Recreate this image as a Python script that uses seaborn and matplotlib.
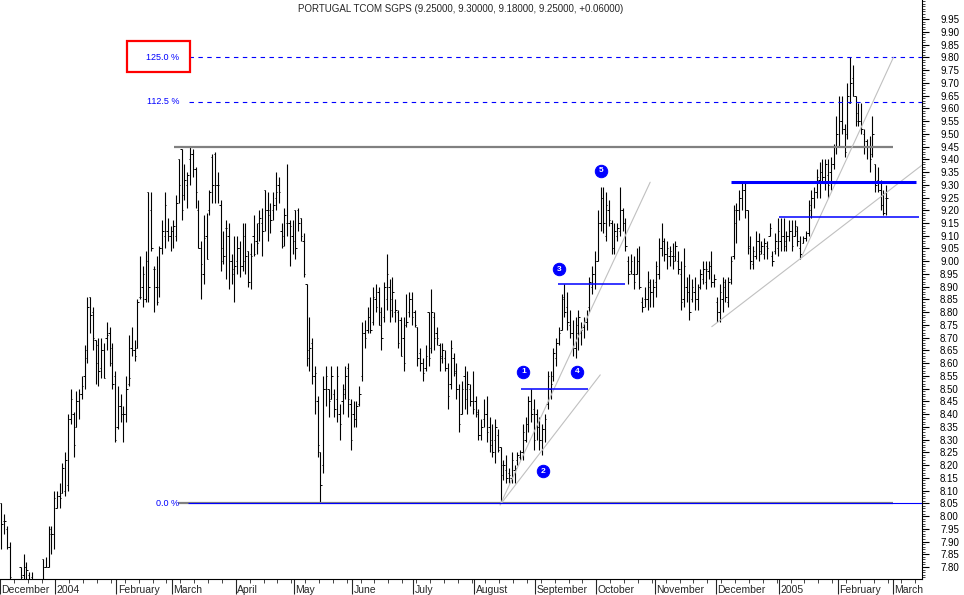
import numpy as np
import pandas as pd
import matplotlib
matplotlib.use("Agg")
import matplotlib.pyplot as plt
from matplotlib.patches import Rectangle
from matplotlib.ticker import FixedLocator, MultipleLocator, FormatStrFormatter
import seaborn as sns

# ──────────────────────────────────────────────
# Daily bars (open, high, low, close), one list per month
# ──────────────────────────────────────────────
dec03 = [
    (8.05, 8.05, 7.87, 7.97), (7.98, 8.01, 7.93, 7.98), (7.95, 7.96, 7.87, 7.88),
    (7.88, 7.90, 7.72, 7.76), (7.72, 7.74, 7.66, 7.70), (7.70, 7.73, 7.64, 7.68),
    (7.68, 7.74, 7.65, 7.72), (7.80, 7.80, 7.70, 7.76), (7.77, 7.85, 7.72, 7.80),
    (7.80, 7.82, 7.73, 7.79), (7.77, 7.78, 7.70, 7.74), (7.76, 7.78, 7.71, 7.73),
    (7.72, 7.74, 7.65, 7.70), (7.70, 7.73, 7.66, 7.69), (7.69, 7.74, 7.67, 7.72),
    (7.83, 7.83, 7.74, 7.80), (7.80, 7.84, 7.80, 7.80), (7.80, 7.96, 7.80, 7.93),
    (7.95, 7.96, 7.85, 7.93), (7.93, 8.10, 7.87, 8.07),
]
jan04 = [
    (8.03, 8.10, 8.03, 8.08), (8.08, 8.13, 8.03, 8.07), (8.09, 8.21, 8.09, 8.19),
    (8.10, 8.25, 8.08, 8.22), (8.12, 8.40, 8.10, 8.38), (8.38, 8.50, 8.36, 8.46),
    (8.40, 8.41, 8.23, 8.28), (8.35, 8.49, 8.35, 8.45), (8.45, 8.50, 8.38, 8.48),
    (8.48, 8.55, 8.46, 8.51), (8.55, 8.67, 8.50, 8.65), (8.62, 8.86, 8.60, 8.82),
    (8.86, 8.86, 8.72, 8.79), (8.80, 8.82, 8.65, 8.70), (8.69, 8.69, 8.52, 8.67),
    (8.60, 8.70, 8.51, 8.57), (8.58, 8.70, 8.54, 8.65), (8.65, 8.68, 8.54, 8.54),
    (8.70, 8.76, 8.65, 8.71), (8.72, 8.74, 8.59, 8.60), (8.66, 8.68, 8.50, 8.52),
    (8.55, 8.57, 8.29, 8.30),
]
feb04 = [
    (8.35, 8.51, 8.34, 8.43), (8.43, 8.48, 8.37, 8.40), (8.40, 8.43, 8.29, 8.40),
    (8.40, 8.55, 8.37, 8.50), (8.52, 8.71, 8.51, 8.54), (8.66, 8.74, 8.63, 8.65),
    (8.65, 8.69, 8.61, 8.63), (8.66, 8.85, 8.66, 8.84), (8.86, 9.02, 8.85, 8.86),
    (8.90, 8.98, 8.82, 8.95), (8.85, 9.04, 8.84, 9.00), (9.27, 9.27, 8.84, 8.90),
    (9.20, 9.27, 9.04, 9.05), (8.97, 8.98, 8.80, 8.97), (8.90, 9.02, 8.83, 8.84),
    (8.90, 9.06, 8.86, 9.05), (9.05, 9.16, 9.03, 9.12), (9.10, 9.27, 9.05, 9.22),
    (9.12, 9.17, 9.08, 9.10), (9.10, 9.14, 9.04, 9.12),
]
mar04 = [
    (9.12, 9.16, 9.05, 9.14), (9.10, 9.26, 9.08, 9.23), (9.40, 9.40, 9.23, 9.30),
    (9.44, 9.44, 9.16, 9.20), (9.26, 9.38, 9.24, 9.32), (9.30, 9.35, 9.21, 9.34),
    (9.40, 9.45, 9.30, 9.42), (9.42, 9.44, 9.33, 9.36), (9.36, 9.37, 9.21, 9.27),
    (9.20, 9.24, 9.05, 9.05), (9.05, 9.08, 8.85, 8.99), (8.95, 9.18, 8.91, 9.09),
    (9.10, 9.19, 9.01, 9.01), (9.20, 9.28, 9.18, 9.27), (9.41, 9.42, 9.23, 9.30),
    (9.42, 9.43, 9.23, 9.30), (9.30, 9.35, 9.23, 9.30), (9.22, 9.24, 8.96, 9.00),
    (9.05, 9.12, 8.99, 9.02), (9.13, 9.16, 8.93, 9.13), (9.10, 9.15, 8.89, 9.00),
    (9.00, 9.03, 8.91, 8.97), (8.95, 9.10, 8.84, 8.98),
]
apr04 = [
    (9.00, 9.10, 8.95, 9.05), (9.05, 9.08, 8.94, 8.98), (8.98, 9.15, 8.96, 9.10),
    (9.00, 9.15, 8.95, 9.02), (9.04, 9.04, 8.90, 8.92), (9.03, 9.07, 8.89, 9.02),
    (9.10, 9.18, 9.02, 9.03), (9.08, 9.15, 9.03, 9.07), (9.15, 9.20, 9.08, 9.17),
    (9.15, 9.21, 9.02, 9.12), (9.28, 9.28, 9.12, 9.20), (9.20, 9.27, 9.08, 9.20),
    (9.18, 9.23, 9.11, 9.16), (9.20, 9.27, 9.16, 9.22), (9.25, 9.35, 9.20, 9.27),
    (9.30, 9.33, 9.23, 9.27), (9.12, 9.15, 9.05, 9.06), (9.10, 9.21, 9.06, 9.18),
    (9.15, 9.38, 9.10, 9.15), (9.15, 9.16, 8.98, 9.14), (9.10, 9.16, 9.03, 9.08),
]
may04 = [
    (9.20, 9.20, 9.01, 9.05), (9.20, 9.21, 9.12, 9.15), (9.17, 9.17, 9.08, 9.10),
    (9.08, 9.11, 8.94, 8.95), (8.91, 8.91, 8.59, 8.62), (8.65, 8.78, 8.57, 8.66),
    (8.68, 8.70, 8.52, 8.55), (8.55, 8.59, 8.40, 8.56), (8.45, 8.47, 8.23, 8.28),
    (8.25, 8.25, 8.05, 8.12), (8.20, 8.55, 8.17, 8.50), (8.50, 8.59, 8.43, 8.55),
    (8.50, 8.50, 8.39, 8.45), (8.46, 8.59, 8.46, 8.55), (8.48, 8.50, 8.39, 8.42),
    (8.46, 8.59, 8.37, 8.55), (8.40, 8.44, 8.30, 8.36), (8.45, 8.52, 8.40, 8.48),
    (8.50, 8.59, 8.46, 8.55), (8.58, 8.60, 8.39, 8.46), (8.44, 8.46, 8.26, 8.30),
]
jun04 = [
    (8.40, 8.45, 8.35, 8.38), (8.38, 8.45, 8.35, 8.43), (8.44, 8.51, 8.43, 8.48),
    (8.55, 8.76, 8.53, 8.72), (8.72, 8.77, 8.66, 8.70), (8.73, 8.82, 8.72, 8.78),
    (8.78, 8.86, 8.72, 8.73), (8.76, 8.90, 8.75, 8.86), (8.85, 8.91, 8.80, 8.82),
    (8.88, 8.90, 8.75, 8.75), (8.80, 8.82, 8.65, 8.70), (8.78, 8.92, 8.76, 8.90),
    (8.85, 9.03, 8.81, 8.95), (8.90, 8.93, 8.76, 8.81), (8.85, 8.94, 8.78, 8.88),
    (8.80, 8.85, 8.76, 8.81), (8.80, 8.81, 8.66, 8.68), (8.77, 8.78, 8.63, 8.63),
    (8.70, 8.78, 8.57, 8.60), (8.75, 8.87, 8.74, 8.76), (8.80, 8.88, 8.78, 8.85),
    (8.85, 8.88, 8.75, 8.78),
]
jul04 = [
    (8.80, 8.81, 8.74, 8.75), (8.74, 8.74, 8.59, 8.62), (8.64, 8.66, 8.57, 8.60),
    (8.60, 8.62, 8.53, 8.56), (8.58, 8.67, 8.57, 8.63), (8.80, 8.80, 8.59, 8.62),
    (8.66, 8.89, 8.64, 8.80), (8.78, 8.80, 8.65, 8.70), (8.72, 8.74, 8.67, 8.70),
    (8.67, 8.68, 8.57, 8.62), (8.63, 8.68, 8.60, 8.65), (8.62, 8.65, 8.57, 8.58),
    (8.58, 8.60, 8.42, 8.47), (8.52, 8.69, 8.50, 8.66), (8.62, 8.64, 8.55, 8.57),
    (8.56, 8.60, 8.46, 8.50), (8.50, 8.52, 8.33, 8.36), (8.40, 8.53, 8.40, 8.50),
    (8.55, 8.59, 8.42, 8.46), (8.50, 8.57, 8.40, 8.52), (8.50, 8.52, 8.43, 8.45),
    (8.45, 8.57, 8.40, 8.42),
]
aug04 = [
    (8.45, 8.47, 8.39, 8.41), (8.40, 8.42, 8.30, 8.32), (8.32, 8.38, 8.30, 8.35),
    (8.38, 8.46, 8.35, 8.40), (8.40, 8.47, 8.29, 8.33), (8.35, 8.39, 8.25, 8.28),
    (8.30, 8.36, 8.23, 8.25), (8.30, 8.38, 8.21, 8.35), (8.32, 8.34, 8.25, 8.26),
    (8.27, 8.27, 8.05, 8.20), (8.16, 8.22, 8.14, 8.20), (8.18, 8.24, 8.13, 8.15),
    (8.17, 8.19, 8.13, 8.16), (8.15, 8.25, 8.13, 8.22), (8.18, 8.20, 8.13, 8.19),
    (8.22, 8.25, 8.20, 8.24), (8.23, 8.26, 8.22, 8.25), (8.25, 8.36, 8.22, 8.33),
    (8.30, 8.39, 8.29, 8.36), (8.36, 8.47, 8.33, 8.45), (8.45, 8.50, 8.37, 8.40),
    (8.42, 8.46, 8.26, 8.30),
]
sep04 = [
    (8.40, 8.42, 8.30, 8.35), (8.35, 8.39, 8.26, 8.30), (8.30, 8.36, 8.24, 8.34),
    (8.34, 8.40, 8.29, 8.38), (8.44, 8.57, 8.42, 8.55), (8.50, 8.57, 8.46, 8.52),
    (8.55, 8.66, 8.53, 8.64), (8.62, 8.70, 8.59, 8.68), (8.68, 8.74, 8.67, 8.72),
    (8.73, 8.87, 8.73, 8.85), (8.86, 8.91, 8.78, 8.80), (8.82, 8.88, 8.73, 8.76),
    (8.75, 8.81, 8.70, 8.72), (8.72, 8.77, 8.63, 8.66), (8.66, 8.78, 8.62, 8.75),
    (8.72, 8.81, 8.65, 8.78), (8.72, 8.76, 8.67, 8.73), (8.74, 8.78, 8.70, 8.76),
    (8.76, 8.81, 8.73, 8.79), (8.82, 8.94, 8.80, 8.92), (8.90, 8.98, 8.87, 8.95),
    (8.95, 9.04, 8.89, 9.00),
]
oct04 = [
    (9.00, 9.20, 9.00, 9.15), (9.15, 9.29, 9.12, 9.25), (9.25, 9.29, 9.11, 9.15),
    (9.10, 9.27, 9.08, 9.22), (9.20, 9.24, 9.14, 9.16), (9.15, 9.16, 9.03, 9.05),
    (9.05, 9.15, 9.03, 9.12), (9.10, 9.15, 9.08, 9.13), (9.12, 9.29, 9.10, 9.20),
    (9.20, 9.21, 9.12, 9.15), (9.15, 9.17, 9.04, 9.06), (9.00, 9.02, 8.91, 8.95),
    (8.96, 9.03, 8.95, 9.00), (8.95, 9.02, 8.89, 8.92), (8.95, 9.05, 8.95, 9.00),
    (9.00, 9.06, 8.89, 8.90), (8.84, 8.86, 8.80, 8.82), (8.85, 8.90, 8.82, 8.85),
    (8.85, 8.96, 8.81, 8.92), (8.90, 8.93, 8.82, 8.88), (8.88, 8.93, 8.82, 8.90),
]
nov04 = [
    (8.92, 9.00, 8.86, 8.98), (8.95, 9.09, 8.93, 9.05), (9.05, 9.15, 9.02, 9.08),
    (9.08, 9.09, 9.00, 9.03), (9.03, 9.08, 8.97, 9.05), (9.02, 9.06, 8.98, 9.04),
    (9.02, 9.07, 8.97, 9.00), (9.02, 9.08, 9.00, 9.06), (9.00, 9.04, 8.95, 8.97),
    (8.95, 9.00, 8.81, 8.84), (8.85, 9.05, 8.82, 8.98), (8.90, 8.94, 8.84, 8.88),
    (8.88, 8.95, 8.77, 8.80), (8.85, 8.93, 8.84, 8.90), (8.88, 8.94, 8.81, 8.85),
    (8.85, 8.91, 8.81, 8.90), (8.90, 8.97, 8.89, 8.95), (8.93, 9.00, 8.91, 8.97),
    (8.92, 9.00, 8.89, 8.97), (8.96, 9.00, 8.93, 8.98), (8.98, 9.04, 8.90, 8.92),
    (8.92, 8.95, 8.90, 8.93),
]
dec04 = [
    (8.84, 8.86, 8.76, 8.80), (8.80, 8.91, 8.76, 8.88), (8.85, 8.94, 8.80, 8.92),
    (8.90, 8.93, 8.84, 8.86), (8.84, 8.94, 8.82, 8.92), (8.93, 9.02, 8.91, 9.00),
    (9.02, 9.22, 9.01, 9.20), (9.15, 9.23, 9.07, 9.20), (9.20, 9.28, 9.16, 9.25),
    (9.25, 9.31, 9.20, 9.28), (9.28, 9.31, 9.17, 9.20), (9.20, 9.20, 9.03, 9.06),
    (9.05, 9.10, 8.97, 9.00), (8.99, 9.06, 8.97, 9.04), (9.02, 9.12, 9.01, 9.08),
    (9.08, 9.11, 9.00, 9.03), (9.04, 9.08, 9.03, 9.06), (9.03, 9.09, 9.01, 9.07),
    (9.06, 9.08, 9.01, 9.05), (9.10, 9.15, 9.10, 9.13), (9.02, 9.04, 8.98, 9.00),
    (9.04, 9.11, 9.03, 9.08), (9.05, 9.17, 9.02, 9.12),
]
jan05 = [
    (9.08, 9.17, 9.04, 9.10), (9.10, 9.17, 9.04, 9.06), (9.08, 9.12, 9.04, 9.10),
    (9.10, 9.16, 9.08, 9.12), (9.12, 9.16, 9.04, 9.06), (9.10, 9.16, 9.10, 9.14),
    (9.12, 9.14, 9.06, 9.08), (9.05, 9.10, 9.01, 9.03), (9.07, 9.10, 9.07, 9.09),
    (9.09, 9.12, 9.08, 9.11), (9.11, 9.24, 9.10, 9.22), (9.20, 9.28, 9.17, 9.25),
    (9.25, 9.29, 9.21, 9.27), (9.27, 9.36, 9.25, 9.33), (9.32, 9.39, 9.25, 9.35),
    (9.35, 9.40, 9.31, 9.33), (9.33, 9.40, 9.28, 9.38), (9.34, 9.40, 9.25, 9.30),
    (9.35, 9.41, 9.28, 9.38), (9.38, 9.46, 9.36, 9.45), (9.45, 9.57, 9.42, 9.50),
]
feb05 = [
    (9.45, 9.65, 9.45, 9.55), (9.55, 9.65, 9.50, 9.52), (9.52, 9.54, 9.41, 9.43),
    (9.50, 9.70, 9.48, 9.65), (9.62, 9.80, 9.62, 9.70), (9.72, 9.77, 9.65, 9.65),
    (9.65, 9.65, 9.53, 9.55), (9.58, 9.62, 9.53, 9.55), (9.55, 9.62, 9.50, 9.52),
    (9.50, 9.52, 9.42, 9.45), (9.47, 9.48, 9.40, 9.45), (9.45, 9.49, 9.35, 9.40),
    (9.42, 9.57, 9.41, 9.50), (9.38, 9.38, 9.27, 9.30), (9.32, 9.37, 9.27, 9.28),
    (9.28, 9.32, 9.20, 9.22), (9.22, 9.28, 9.18, 9.19), (9.25, 9.30, 9.18, 9.25),
]

month_labels = ["December", "2004", "February", "March", "April", "May", "June",
                "July", "August", "September", "October", "November", "December",
                "2005", "February"]
month_bars = [dec03, jan04, feb04, mar04, apr04, may04, jun04, jul04, aug04,
              sep04, oct04, nov04, dec04, jan05, feb05]
sessions_left_in_feb05 = 2      # March 2005 starts 2 sessions after the last bar

# Fibonacci projection: 0 % at the May/Aug lows, 100 % at the March high
fib_base, fib_top = 8.05, 9.45
fib_pcts = [1.125, 1.25]
fib_texts = ["112.5 %", "125.0 %"]

# horizontal blue levels (price, first bar, last bar, width)
level_prices = [9.31, 9.175, 8.91, 8.50]
level_from = [263.1, 280.4, 200.7, 187.4]
level_to = [329.7, 330.8, 224.9, 211.5]
level_widths = [2.2, 1.1, 1.1, 1.1]

# grey trend lines (bar, price) -> (bar, price)
trend_x0 = [179.8, 179.8, 256.1, 288.6]
trend_y0 = [8.044, 8.044, 8.743, 9.02]
trend_x1 = [233.9, 215.9, 331.9, 321.6]
trend_y1 = [9.31, 8.554, 9.377, 9.80]

# Elliott wave counts
wave_num = ["1", "2", "3", "4", "5"]
wave_x = [188.2, 195.1, 201.2, 207.5, 216.2]
wave_y = [8.567, 8.175, 8.968, 8.567, 9.355]

# ──────────────────────────────────────────────
# Build the table
# ──────────────────────────────────────────────
rows = [bar for month in month_bars for bar in month]
df = pd.DataFrame(rows, columns=["open", "high", "low", "close"])
df["idx"] = np.arange(len(df))

month_starts = np.cumsum([0] + [len(m) for m in month_bars[:-1]])
march_start = len(df) + sessions_left_in_feb05
tick_pos = list(month_starts - 0.5) + [march_start - 0.5]
tick_names = month_labels + ["March"]

last = df.iloc[-1]
change = last["close"] - df.iloc[-2]["close"]
title = ("PORTUGAL TCOM SGPS ({:.5f}, {:.5f}, {:.5f}, {:.5f}, {:+.5f})"
         .format(last["open"], last["high"], last["low"], last["close"], change))

# ──────────────────────────────────────────────
# Plot
# ──────────────────────────────────────────────
sns.set_style("white")
plt.rcParams["font.family"] = ["Liberation Sans", "DejaVu Sans"]

fig = plt.figure(figsize=(9.64, 5.95), dpi=100)
ax = fig.add_axes([0, 16 / 595, 922 / 964, 579 / 595])
x_right = 331.9
ax.set_xlim(-0.36, x_right)
ax.set_ylim(7.753, 10.025)

# OHLC bars
ax.vlines(df["idx"], df["low"], df["high"], color="black", lw=0.8, zorder=3)
ax.hlines(df["open"], df["idx"] - 0.5, df["idx"], color="black", lw=0.7, zorder=3)
ax.hlines(df["close"], df["idx"], df["idx"] + 0.5, color="black", lw=0.7, zorder=3)

# 0 % / 100 % grey lines
ax.hlines(fib_top, 62.3, 321.4, color="#808080", lw=1.6, zorder=4)
ax.hlines(fib_base, 63.8, 321.4, color="#808080", lw=1.6, zorder=4)
ax.hlines(fib_base, 67.4, x_right, color="#0000ff", lw=0.8, zorder=5)
ax.text(64.1, fib_base, "0.0 %", color="#0000ff", fontsize=6.5,
        ha="right", va="center", zorder=6)

# projection levels (dashed)
for pct, txt in zip(fib_pcts, fib_texts):
    lvl = fib_base + pct * (fib_top - fib_base)
    ax.hlines(lvl, 67.8, x_right, color="#0000ff", lw=0.8,
              linestyles=(0, (4, 4)), zorder=4)
    ax.text(64.1, lvl, txt, color="#0000ff", fontsize=6.5, ha="right", va="center")

# red box around the 125 % label
ax.add_patch(Rectangle((45.3, 9.744), 22.8, 0.121, fill=False,
                       edgecolor="#ff0000", lw=1.6, zorder=6, clip_on=False))

# blue support / resistance levels
for p, a, b, w in zip(level_prices, level_from, level_to, level_widths):
    ax.hlines(p, a, b, color="#0000ff", lw=w, zorder=5)

# trend lines
for xa, ya, xb, yb in zip(trend_x0, trend_y0, trend_x1, trend_y1):
    ax.plot([xa, xb], [ya, yb], color="#c0c0c0", lw=0.8, zorder=4)

# wave count markers
sns.scatterplot(x=wave_x, y=wave_y, s=80, color="#0000ff", edgecolor="#0000ff",
                ax=ax, legend=False, zorder=6)
for n, wx, wy in zip(wave_num, wave_x, wave_y):
    ax.text(wx, wy, n, color="white", fontsize=6, fontweight="bold",
            ha="center", va="center", zorder=7)

# axes styling
for side in ["top", "left"]:
    ax.spines[side].set_visible(False)
for side in ["right", "bottom"]:
    ax.spines[side].set_color("black")
    ax.spines[side].set_linewidth(0.8)
ax.grid(False)

ax.yaxis.tick_right()
ax.set_yticks(np.arange(7.80, 9.951, 0.05))
ax.yaxis.set_major_formatter(FormatStrFormatter("%.2f"))
ax.yaxis.set_minor_locator(MultipleLocator(0.01))
ax.tick_params(axis="y", which="major", direction="out", length=5, width=0.8,
               labelsize=7, pad=8, right=True, left=False, colors="black")
ax.tick_params(axis="y", which="minor", direction="out", length=2.5, width=0.6,
               right=True, left=False)

ax.set_xticks(tick_pos)
ax.set_xticklabels([])
ax.xaxis.set_minor_locator(FixedLocator(np.arange(-0.5, x_right, 5)))
ax.tick_params(axis="x", which="major", direction="out", length=11, width=0.8,
               bottom=True)
ax.tick_params(axis="x", which="minor", direction="out", length=3, width=0.6,
               bottom=True)
for pos, name in zip(tick_pos, tick_names):
    ax.annotate(name, xy=(pos, 0), xycoords=("data", "axes fraction"),
                xytext=(1.0, -10.2), textcoords="offset points",
                fontsize=7.5, ha="left", va="baseline", annotation_clip=False)

fig.text(461 / 964, 1 - 8.5 / 595, title, fontsize=7, ha="center", va="center")

fig.savefig("out.png", dpi=100)
